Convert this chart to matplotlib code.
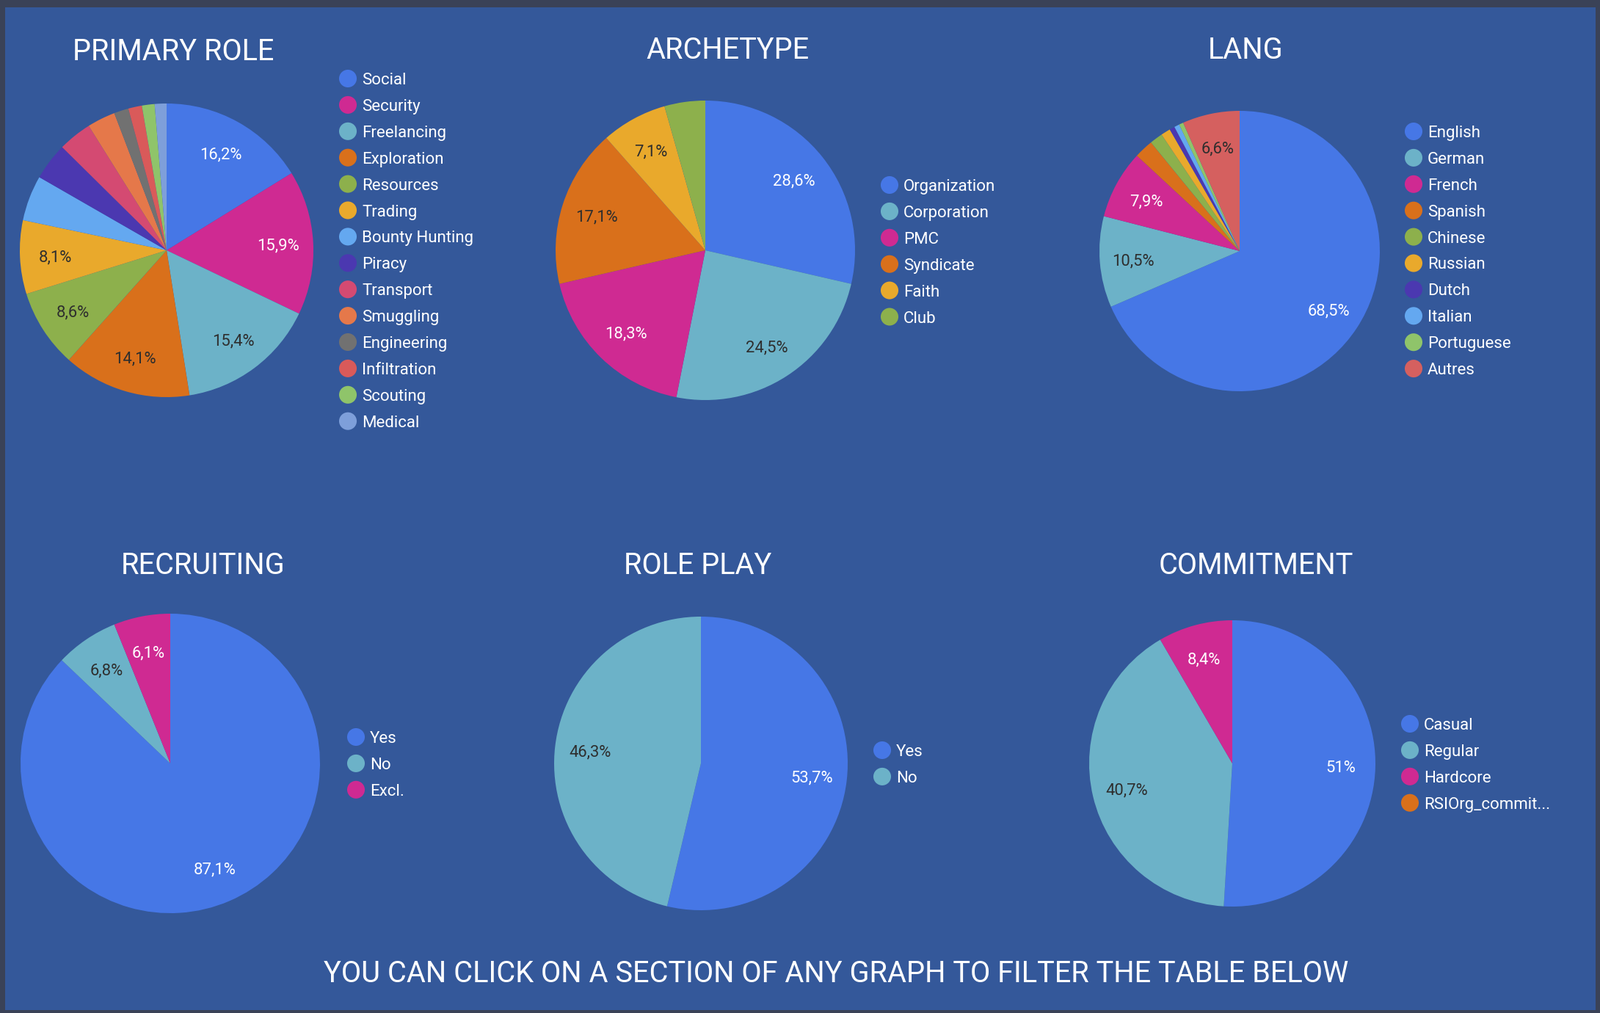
import matplotlib
matplotlib.use("Agg")
import matplotlib.pyplot as plt
from matplotlib.patches import Rectangle

plt.rcParams['font.family'] = ['Roboto', 'DejaVu Sans']

W, H = 2180, 1380

# ---------------- data ----------------
role_names = ["Social", "Security", "Freelancing", "Exploration", "Resources", "Trading",
              "Bounty Hunting", "Piracy", "Transport", "Smuggling", "Engineering",
              "Infiltration", "Scouting", "Medical"]
role_values = [16.2, 15.9, 15.4, 14.1, 8.6, 8.1, 5.0, 4.1, 3.7, 3.1, 1.6, 1.5, 1.4, 1.3]

arch_names = ["Organization", "Corporation", "PMC", "Syndicate", "Faith", "Club"]
arch_values = [28.6, 24.5, 18.3, 17.1, 7.1, 4.4]

lang_names = ["English", "German", "French", "Spanish", "Chinese", "Russian", "Dutch",
              "Italian", "Portuguese", "Autres"]
lang_values = [68.5, 10.5, 7.9, 2.2, 1.5, 1.1, 0.6, 0.6, 0.5, 6.6]

recr_names = ["Yes", "No", "Excl."]
recr_values = [87.1, 6.8, 6.1]

rp_names = ["Yes", "No"]
rp_values = [53.7, 46.3]

comm_names = ["Casual", "Regular", "Hardcore", "RSIOrg_commit..."]
comm_values = [51.0, 40.7, 8.4, 0.0]

titles = ["PRIMARY ROLE", "ARCHETYPE", "LANG", "RECRUITING", "ROLE PLAY", "COMMITMENT"]
footer = "YOU CAN CLICK ON A SECTION OF ANY GRAPH TO FILTER THE TABLE BELOW"

# ---------------- colours ----------------
BLUE = "#4677E6"; MAG = "#CF2A92"; TEAL = "#6CB2C8"; ORANGE = "#D9701B"
GREEN = "#8DB04C"; YELLOW = "#E9A92C"; LBLUE = "#64A8F0"; PURPLE = "#4B38B0"
PINK = "#D44A72"; CORAL = "#E5784A"; GRAY = "#717171"; RED = "#D95A5A"
LGREEN = "#8FC46A"; PERI = "#7E9FDA"; AUTRES = "#D5605F"

role_colors = [BLUE, MAG, TEAL, ORANGE, GREEN, YELLOW, LBLUE, PURPLE, PINK, CORAL,
               GRAY, RED, LGREEN, PERI]
arch_colors = [BLUE, TEAL, MAG, ORANGE, YELLOW, GREEN]
lang_colors = [BLUE, TEAL, MAG, ORANGE, GREEN, YELLOW, PURPLE, LBLUE, LGREEN, AUTRES]
recr_colors = [BLUE, TEAL, MAG]
rp_colors = [BLUE, TEAL]
comm_colors = [BLUE, TEAL, MAG, ORANGE]

DARK_BG = "#3A4257"
PANEL = "#34589A"

fig = plt.figure(figsize=(W / 100, H / 100), dpi=100, facecolor=DARK_BG)

# overlay axes in pixel coordinates
ov = fig.add_axes([0, 0, 1, 1])
ov.set_xlim(0, W)
ov.set_ylim(H, 0)
ov.axis("off")
ov.add_patch(Rectangle((7, 10), 2167, 1366, facecolor=PANEL, edgecolor="none", zorder=0))


def text_color(hexc):
    r, g, b = [int(hexc[i:i + 2], 16) for i in (1, 3, 5)]
    lum = 0.299 * r + 0.587 * g + 0.114 * b
    return "white" if lum < 120 else "#2E2E2E"


def fmt(v):
    return ("%g%%" % v).replace(".", ",")


def draw_pie(cx, cy, r, values, colors, threshold, pctdist=0.76):
    ax = fig.add_axes([(cx - r) / W, 1 - (cy + r) / H, 2 * r / W, 2 * r / H])
    ax.set_zorder(2)
    labels = [fmt(v) if v >= threshold else "" for v in values]
    wedges, texts = ax.pie(values, colors=colors, startangle=90, counterclock=False,
                           labels=labels, labeldistance=pctdist,
                           wedgeprops=dict(linewidth=0),
                           textprops=dict(fontsize=15.8, ha="center", va="center_baseline"))
    for t, c in zip(texts, colors):
        t.set_color(text_color(c))
    ax.set_xlim(-1, 1)
    ax.set_ylim(-1, 1)
    ax.set_aspect("equal")
    ax.axis("off")
    ax.patch.set_alpha(0)
    return ax


def draw_legend(x, y, names, colors, spacing=35.9):
    for i, (n, c) in enumerate(zip(names, colors)):
        yy = y + i * spacing
        ov.scatter([x], [yy], s=300, color=c, edgecolors="none", zorder=3)
        ov.text(x + 19, yy, n, color="white", fontsize=16, va="center_baseline",
                ha="left", zorder=3)


# pies
draw_pie(227, 341, 200, role_values, role_colors, 6.0)
draw_pie(961, 341, 204, arch_values, arch_colors, 6.0)
draw_pie(1689, 342, 191, lang_values, lang_colors, 6.0)
draw_pie(232, 1040, 204, recr_values, recr_colors, 6.0)
draw_pie(955, 1040, 200, rp_values, rp_colors, 6.0)
draw_pie(1679, 1040, 195, comm_values, comm_colors, 6.0)

# legends
draw_legend(474, 107, role_names, role_colors)
draw_legend(1212, 252, arch_names, arch_colors)
draw_legend(1926, 179, lang_names, lang_colors)
draw_legend(485, 1004, recr_names, recr_colors)
draw_legend(1202, 1022, rp_names, rp_colors)
draw_legend(1921, 986, comm_names, comm_colors)

# titles
title_pos = [(236, 67), (991, 65), (1697, 64), (277, 766), (951, 766), (1711, 766)]
for t, (x, y) in zip(titles, title_pos):
    ov.text(x, y, t, color="white", fontsize=28.5, ha="center", va="center_baseline",
            zorder=3)

ov.text(1139, 1323, footer, color="white", fontsize=28.6, ha="center",
        va="center_baseline", zorder=3)

fig.savefig("out.png", dpi=100, facecolor=DARK_BG)
